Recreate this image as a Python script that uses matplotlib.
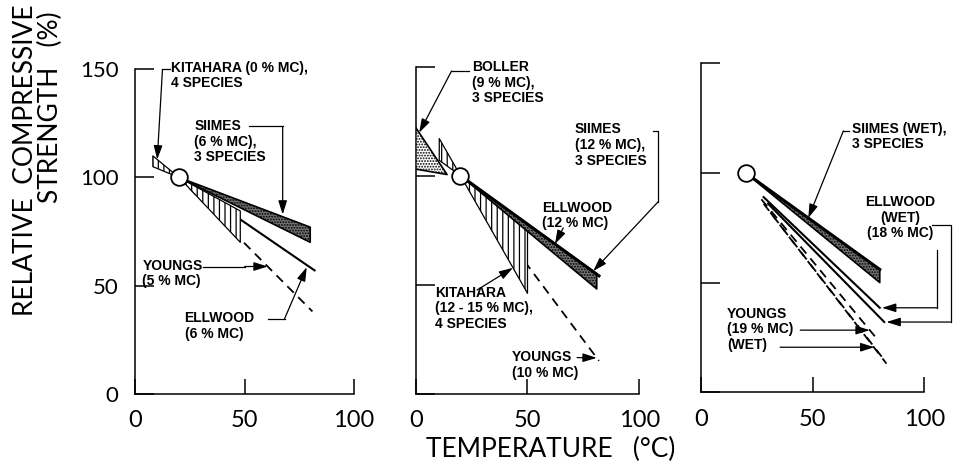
import numpy as np
import matplotlib
matplotlib.use("Agg")
import matplotlib.pyplot as plt
from matplotlib import font_manager

# ---------------------------------------------------------
# Data (relative compressive strength, % of value at 20 C)
# ---------------------------------------------------------
ref_T, ref_S = 20, 100

# Panel 1 - dry wood
p1_kit_T = [8, 20, 48]          # Kitahara (0% MC), hatched wedge
p1_kit_a = [105, 100, 84.5]
p1_kit_b = [110, 100, 70]
p1_siimes_T = [20, 80]          # Siimes (6% MC), stippled band
p1_siimes_hi = [100, 77]
p1_siimes_lo = [100, 70]
p1_ellwood_T = [20, 82]         # Ellwood (6% MC)
p1_ellwood_S = [100, 57]
p1_youngs_T = [20, 81]          # Youngs (5% MC)
p1_youngs_S = [100, 38]

# Panel 2 - ~10% MC
p2_boller_T = [0, 14]           # Boller (9% MC), stippled
p2_boller_hi = [122, 100.5]
p2_boller_lo = [103, 100.5]
p2_kit_T = [10.5, 20, 50]       # Kitahara (12-15% MC)
p2_kit_a = [107, 100, 77.8]
p2_kit_b = [117, 100, 46]
p2_siimes_T = [20, 81]          # Siimes (12% MC)
p2_siimes_hi = [100, 55]
p2_siimes_lo = [100, 48]
p2_ellwood_T = [20, 82]         # Ellwood (12% MC)
p2_ellwood_S = [100, 54]
p2_youngs_T = [20, 82]          # Youngs (10% MC)
p2_youngs_S = [100, 15]

# Panel 3 - wet wood
p3_siimes_T = [20, 80]          # Siimes (wet)
p3_siimes_hi = [100, 56]
p3_siimes_lo = [100, 50]
p3_ell18_T = [28, 80]           # Ellwood (18% MC)
p3_ell18_S = [89, 38.5]
p3_ellwet_T = [30, 82]          # Ellwood (wet)
p3_ellwet_S = [86, 32]
p3_yg19_T = [27, 79]            # Youngs (19% MC)
p3_yg19_S = [88, 24]
p3_ygwet_T = [28, 81]           # Youngs (wet)
p3_ygwet_S = [86, 16]
p3_ygwet2_T = [31, 83]
p3_ygwet2_S = [82, 13]

x_ticks = [0, 50, 100]
y_ticks = [0, 50, 100, 150]

# ---------------------------------------------------------
# Style
# ---------------------------------------------------------
names = {f.name for f in font_manager.fontManager.ttflist}
plain_font = "Lato" if "Lato" in names else "DejaVu Sans"
plt.rcParams["font.family"] = plain_font
plt.rcParams["text.color"] = "black"
plt.rcParams["hatch.linewidth"] = 0.9

LBL = dict(fontsize=10, fontweight="bold", family="Liberation Sans",
           va="top", ha="left", linespacing=1.15)
DASH = (0, (5, 3.5))
ARROW = "-|>,head_length=0.7,head_width=0.22"


def at(T, Ts, Ss):
    return float(np.interp(T, Ts, Ss))


def T_at(S, Ts, Ss):
    return float(np.interp(S, Ss[::-1], Ts[::-1]))


def leader(ax, path, tip):
    xs = [p[0] for p in path]
    ys = [p[1] for p in path]
    ax.plot(xs, ys, color="k", lw=0.9, clip_on=False)
    ax.annotate("", xy=tip, xytext=path[-1], annotation_clip=False,
                arrowprops=dict(arrowstyle=ARROW, color="k", lw=0.9,
                                mutation_scale=12, shrinkA=0, shrinkB=0))


def stipple(ax, T, lo, hi, face="0.45", z=4):
    ax.fill_between(T, lo, hi, facecolor=face, edgecolor="k",
                    hatch="......", lw=1.2, zorder=z)


def hatched(ax, T, a, b, z=3):
    ax.fill_between(T, a, b, facecolor="white", edgecolor="k",
                    hatch="|||", lw=0.9, zorder=z)


def setup(ax, first):
    ax.set_xlim(0, 100)
    ax.set_ylim(0, 150)
    for s in ["top", "right"]:
        ax.spines[s].set_visible(False)
    for s in ["left", "bottom"]:
        ax.spines[s].set_linewidth(1.1)
    ax.set_xticks(x_ticks)
    ax.set_yticks(y_ticks)
    ax.tick_params(axis="x", direction="in", length=11, width=1.1,
                   pad=12, labelsize=17, labelcolor="black")
    ax.tick_params(axis="y", direction="in", length=14, width=1.1,
                   pad=12, labelsize=16, labelleft=first,
                   labelcolor="black")
    ax.plot([ref_T], [ref_S], "o", ms=12, mfc="white", mec="k",
            mew=1.3, zorder=10)


fig = plt.figure(figsize=(9.67, 4.63), dpi=100)
ax1 = fig.add_axes([0.140, 0.150, 0.226, 0.700])
ax2 = fig.add_axes([0.430, 0.150, 0.231, 0.706])
ax3 = fig.add_axes([0.725, 0.153, 0.231, 0.710])

# ---------------- panel 1 ----------------
setup(ax1, True)
ax1.plot(p1_ellwood_T, p1_ellwood_S, color="k", lw=1.5, zorder=2)
ax1.plot(p1_youngs_T, p1_youngs_S, color="k", lw=1.3, ls=DASH, zorder=2)
hatched(ax1, p1_kit_T, p1_kit_a, p1_kit_b)
stipple(ax1, p1_siimes_T, p1_siimes_lo, p1_siimes_hi)

ax1.text(16.5, 154, "KITAHARA (0 % MC),\n4 SPECIES", **LBL)
leader(ax1, [(15.8, 150), (12.4, 150)], (10, at(10, p1_kit_T, p1_kit_b)))
ax1.text(27, 127, "SIIMES\n(6 % MC),\n3 SPECIES", **LBL)
leader(ax1, [(52, 123.6), (67.4, 123.6)],
       (67.4, at(67.4, p1_siimes_T, p1_siimes_hi) + 1))
ax1.text(3.2, 62.5, "YOUNGS\n(5 % MC)", **LBL)
ys = 58.8
leader(ax1, [(31, ys), (50, ys)], (T_at(ys, p1_youngs_T, p1_youngs_S), ys))
ax1.text(22.5, 38, "ELLWOOD\n(6 % MC)", **LBL)
leader(ax1, [(60.5, 34.7), (68.3, 34.7)],
       (78.4, at(78.4, p1_ellwood_T, p1_ellwood_S) - 1))

# ---------------- panel 2 ----------------
setup(ax2, False)
ax2.plot(p2_youngs_T, p2_youngs_S, color="k", lw=1.3, ls=DASH, zorder=2)
hatched(ax2, p2_kit_T, p2_kit_a, p2_kit_b)
stipple(ax2, p2_boller_T, p2_boller_lo, p2_boller_hi, face="white")
stipple(ax2, p2_siimes_T, p2_siimes_lo, p2_siimes_hi)
ax2.plot(p2_ellwood_T, p2_ellwood_S, color="k", lw=2.2, zorder=5)

ax2.text(25, 153, "BOLLER\n(9 % MC),\n3 SPECIES", **LBL)
leader(ax2, [(24, 148), (16, 148)], (1.5, at(1.5, p2_boller_T, p2_boller_hi)))
ax2.text(71.3, 124.5, "SIIMES\n(12 % MC),\n3 SPECIES", **LBL)
leader(ax2, [(106, 120.6), (108.5, 120.6), (108.5, 88)],
       (79.4, at(79.4, p2_siimes_T, p2_siimes_hi)))
ax2.text(56.5, 88.5, "ELLWOOD\n(12 % MC)", **LBL)
leader(ax2, [(66, 76)], (62.3, at(62.3, p2_ellwood_T, p2_ellwood_S)))
ax2.text(8.5, 49.5, "KITAHARA\n(12 - 15 % MC),\n4 SPECIES", **LBL)
leader(ax2, [(27.4, 47.5)], (43.5, at(43.5, p2_kit_T, p2_kit_b)))
ax2.text(43, 20, "YOUNGS\n(10 % MC)", **LBL)
leader(ax2, [(72.2, 16.5)], (81, at(81, p2_youngs_T, p2_youngs_S)))

# ---------------- panel 3 ----------------
setup(ax3, False)
ax3.plot(p3_ell18_T, p3_ell18_S, color="k", lw=1.5, zorder=2)
ax3.plot(p3_ellwet_T, p3_ellwet_S, color="k", lw=1.5, zorder=2)
for T, S in [(p3_yg19_T, p3_yg19_S), (p3_ygwet_T, p3_ygwet_S),
             (p3_ygwet2_T, p3_ygwet2_S)]:
    ax3.plot(T, S, color="k", lw=1.3, ls=DASH, zorder=2)
stipple(ax3, p3_siimes_T, p3_siimes_lo, p3_siimes_hi)
ax3.plot(p3_siimes_T, p3_siimes_hi, color="k", lw=2.2, zorder=5)

ax3.text(67.7, 123.5, "SIIMES (WET),\n3 SPECIES", **LBL)
leader(ax3, [(66.4, 119.2), (63.7, 119.2)],
       (48, at(48, p3_siimes_T, p3_siimes_hi)))
ax3.text(89, 90, "ELLWOOD\n(WET)\n(18 % MC)", fontsize=10, fontweight="bold",
         family="Liberation Sans", va="top", ha="center", linespacing=1.15,
         multialignment="center", clip_on=False)
leader(ax3, [(103.6, 76.3), (111.7, 76.3), (111.7, p3_ellwet_S[-1])],
       (p3_ellwet_T[-1] + 1, p3_ellwet_S[-1]))
leader(ax3, [(105.8, 64.8), (105.8, p3_ell18_S[-1])],
       (p3_ell18_T[-1] + 1, p3_ell18_S[-1]))
ax3.text(11.7, 39, "YOUNGS\n(19 % MC)\n(WET)", **LBL)
s19, swet = 28.3, 20.5
leader(ax3, [(44.4, s19)], (T_at(s19, p3_yg19_T, p3_yg19_S), s19))
leader(ax3, [(35.4, swet)], (T_at(swet, p3_ygwet_T, p3_ygwet_S), swet))

# ---------------- axis titles ----------------
fig.text(0.026, 0.99, "RELATIVE  COMPRESSIVE", rotation=90, fontsize=19,
         ha="center", va="top", color="black")
fig.text(0.052, 0.975, "STRENGTH   (%)", rotation=90, fontsize=19,
         ha="center", va="top", color="black")
fig.text(0.569, 0.030, "TEMPERATURE   (\u00b0C)", fontsize=19,
         ha="center", va="center", color="black")

fig.savefig("out.png", dpi=100)
